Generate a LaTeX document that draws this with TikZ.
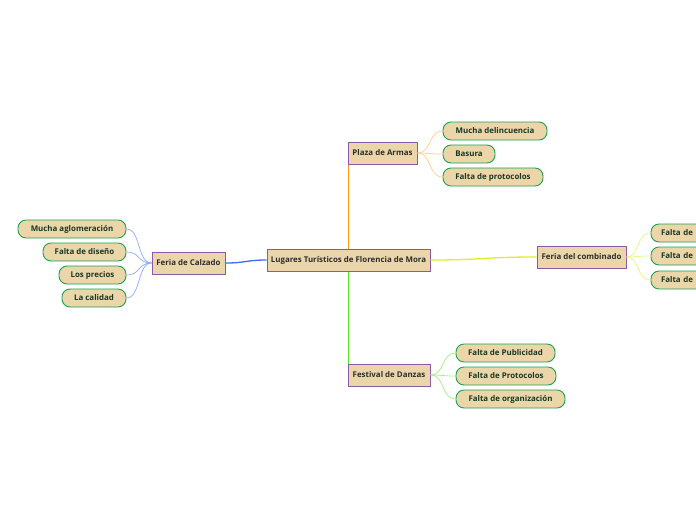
\documentclass[tikz,border=0pt]{standalone}
\usepackage{fontspec}
\setmainfont{Open Sans}
\definecolor{tan}{RGB}{235,214,170}
\definecolor{mainborder}{RGB}{140,90,160}
\definecolor{childborder}{RGB}{30,160,80}
\definecolor{maintext}{RGB}{45,45,45}
\definecolor{childtext}{RGB}{25,55,35}
\definecolor{corange}{RGB}{255,150,20}
\definecolor{cblue}{RGB}{60,110,240}
\definecolor{cyellow}{RGB}{220,240,40}
\definecolor{cgreen}{RGB}{90,230,40}
\definecolor{lorange}{RGB}{255,205,140}
\definecolor{lblue}{RGB}{140,170,250}
\definecolor{lyellow}{RGB}{230,245,130}
\definecolor{lgreen}{RGB}{160,240,130}
\begin{document}
\begin{tikzpicture}[x=1pt,y=-1pt,
  mainbox/.style={draw=mainborder,line width=1pt,fill=tan,text=maintext,
    font=\fontsize{7.9}{9}\selectfont\bfseries,inner sep=0pt,minimum height=22pt,anchor=center},
  childbox/.style={draw=childborder,line width=0.9pt,fill=tan,text=childtext,
    font=\fontsize{7.9}{9}\selectfont\bfseries,inner sep=0pt,minimum height=18pt,
    rounded corners=8pt,anchor=center},
  mainline/.style={line width=1.3pt},
  childline/.style={line width=0.7pt}]
\useasboundingbox (0,0) rectangle (696,520);
\fill[white] (0,0) rectangle (696,520);
% main nodes
\node[mainbox,minimum width=163pt] (c) at (348.5,260) {Lugares Turísticos de Florencia de Mora};
\node[mainbox,minimum width=69pt] (p) at (382.5,153) {Plaza de Armas};
\node[mainbox,minimum width=73pt] (fc) at (188.5,263) {Feria de Calzado};
\node[mainbox,minimum width=89pt] (fb) at (581.5,257) {Feria del combinado};
\node[mainbox,minimum width=82pt] (fd) at (389,375) {Festival de Danzas};
% children plaza
\node[childbox,minimum width=104pt] (p1) at (495,131) {Mucha delincuencia};
\node[childbox,minimum width=52pt] (p2) at (469,154) {Basura};
\node[childbox,minimum width=100pt] (p3) at (493,177) {Falta de protocolos};
% children calzado
\node[childbox,minimum width=108pt] (c1) at (72,229) {Mucha aglomeración};
\node[childbox,minimum width=83pt] (c2) at (84.5,252) {Falta de diseño};
\node[childbox,minimum width=67pt] (c3) at (92.5,275) {Los precios};
\node[childbox,minimum width=64pt] (c4) at (94,298) {La calidad};
% children combinado (cut off at right edge)
\node[childbox,minimum width=100pt,text width=80pt,align=left] (b1) at (701,233) {Falta de};
\node[childbox,minimum width=100pt,text width=80pt,align=left] (b2) at (701,256) {Falta de};
\node[childbox,minimum width=100pt,text width=80pt,align=left] (b3) at (701,280) {Falta de};
% children danzas
\node[childbox,minimum width=99pt] (d1) at (505.5,353) {Falta de Publicidad};
\node[childbox,minimum width=100pt] (d2) at (506,376) {Falta de Protocolos};
\node[childbox,minimum width=109pt] (d3) at (510.5,399) {Falta de organización};
% main connectors
\draw[mainline,corange] (c.north) -- (c.north |- p.south);
\draw[mainline,cgreen] (c.south) -- (c.south |- fd.north);
\draw[mainline,cblue] (c.west) .. controls (246,260) and (246,263) .. (fc.east);
\draw[mainline,cyellow] (c.east) .. controls (483,260) and (483,257) .. (fb.west);
% child connectors
\foreach \n in {p1,p2,p3}{
  \draw[childline,lorange] (p.east) .. controls (432,153) and (428,0|-\n.west) .. (\n.west);
}
\foreach \n in {c1,c2,c3,c4}{
  \draw[childline,lblue] (fc.west) .. controls (137,263) and (141,0|-\n.east) .. (\n.east);
}
\foreach \n in {b1,b2,b3}{
  \draw[childline,lyellow] (fb.east) .. controls (640,257) and (636,0|-\n.west) .. (\n.west);
}
\foreach \n in {d1,d2,d3}{
  \draw[childline,lgreen] (fd.east) .. controls (445,375) and (441,0|-\n.west) .. (\n.west);
}
\end{tikzpicture}
\end{document}
